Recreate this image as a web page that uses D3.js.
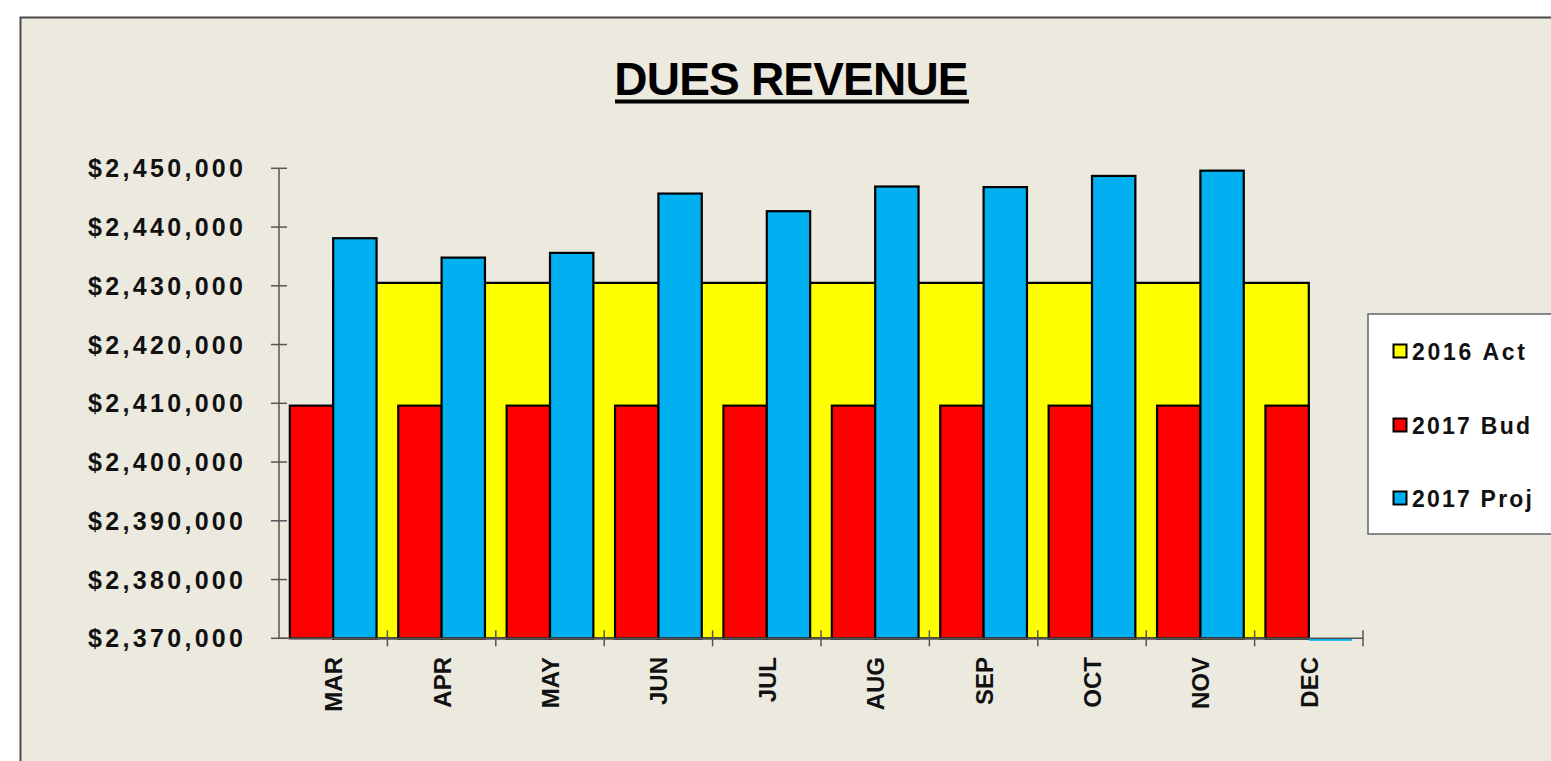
<!DOCTYPE html>
<html>
<head>
<meta charset="utf-8">
<script src="https://cdn.jsdelivr.net/npm/d3@7"></script>
<style>
  html, body { margin: 0; padding: 0; background: #fff; }
  svg { display: block; font-family: "Liberation Sans", Arial, sans-serif; }
</style>
</head>
<body>
<svg id="chart" width="1551" height="761"></svg>
<script>
// data
const months = ['MAR','APR','MAY','JUN','JUL','AUG','SEP','OCT','NOV','DEC'];
const act2016 = [2430500,2430500,2430500,2430500,2430500,2430500,2430500,2430500,2430500,2430500];
const bud2017 = [2409600,2409600,2409600,2409600,2409600,2409600,2409600,2409600,2409600,2409600];
const proj2017 = [2438100,2434800,2435600,2445700,2442700,2446900,2446800,2448700,2449600,0];
const yTicks = [2370000,2380000,2390000,2400000,2410000,2420000,2430000,2440000,2450000];
const seriesNames = ['2016 Act','2017 Bud','2017 Proj'];
const seriesColors = ['#ffff00','#ff0000','#00b0f0'];

(function duesChart(){
  const svg = d3.select('#chart');
  const W = +svg.attr('width'), H = +svg.attr('height');

  // chart area background + frame (top/left edges only visible)
  svg.append('rect').attr('x', 20).attr('y', 17).attr('width', W - 20).attr('height', H - 17)
    .attr('fill', '#ece9df');
  svg.append('path').attr('d', `M20.5,${H} V17.5 H${W}`)
    .attr('fill', 'none').attr('stroke', '#4a4a4a').attr('stroke-width', 2);

  // title
  svg.append('text')
    .attr('x', 791).attr('y', 95)
    .attr('text-anchor', 'middle')
    .attr('font-size', 46).attr('font-weight', 'bold')
    .attr('letter-spacing', -0.8)
    .text('DUES REVENUE');
  svg.append('rect').attr('x', 615).attr('y', 99.5).attr('width', 354).attr('height', 4).attr('fill', '#000');

  const plot = { left: 279, right: 1363, top: 168.3, bottom: 638.3 };

  const x = d3.scaleBand().domain(months).range([plot.left, plot.right]).padding(0);
  const y = d3.scaleLinear().domain([2370000, 2450000]).range([plot.bottom, plot.top]).clamp(true);
  const inner = d3.scaleBand().domain([0, 1]).range([0, x.bandwidth()]).paddingInner(0).paddingOuter(0.25);

  const g = svg.append('g');

  // 2016 Act: area from category centers
  const area = d3.area()
    .x((d, i) => x(months[i]) + x.bandwidth() / 2)
    .y0(y(2370000))
    .y1(d => y(d));
  g.append('path')
    .datum(act2016)
    .attr('d', area)
    .attr('fill', seriesColors[0])
    .attr('stroke', '#000').attr('stroke-width', 2.2).attr('stroke-linejoin', 'miter');

  // bars (values under the axis minimum sit as a thin strip on the baseline)
  const barSeries = [
    { vals: bud2017, color: seriesColors[1], k: 0 },
    { vals: proj2017, color: seriesColors[2], k: 1 }
  ];
  barSeries.forEach(s => {
    g.append('g').selectAll('rect')
      .data(s.vals)
      .join('rect')
        .attr('x', (d, i) => x(months[i]) + inner(s.k))
        .attr('width', inner.bandwidth())
        .attr('y', d => d < 2370000 ? y(2370000) + 0.5 : y(d))
        .attr('height', d => d < 2370000 ? 2 : y(2370000) - y(d))
        .attr('fill', s.color)
        .attr('stroke', d => d < 2370000 ? 'none' : '#000')
        .attr('stroke-width', 2.2);
  });

  // y axis
  const axisCol = '#555';
  g.append('line').attr('x1', plot.left).attr('x2', plot.left)
    .attr('y1', plot.top).attr('y2', plot.bottom).attr('stroke', axisCol).attr('stroke-width', 1.5);
  g.selectAll('.ytick').data(yTicks).join('line')
    .attr('x1', plot.left - 8).attr('x2', plot.left + 8)
    .attr('y1', d => y(d)).attr('y2', d => y(d))
    .attr('stroke', axisCol).attr('stroke-width', 1.5);
  g.selectAll('.ylab').data(yTicks).join('text')
    .attr('x', 88).attr('y', d => y(d) + 9)
    .attr('font-size', 25).attr('font-weight', 'bold')
    .attr('textLength', 155).attr('lengthAdjust', 'spacing')
    .attr('fill', '#111')
    .text(d => '$' + d3.format(',')(d));

  // x axis
  g.append('line').attr('x1', plot.left).attr('x2', plot.right)
    .attr('y1', plot.bottom).attr('y2', plot.bottom).attr('stroke', axisCol).attr('stroke-width', 1.5);
  const bounds = months.map(m => x(m)).concat([plot.right]);
  g.selectAll('.xtick').data(bounds.slice(1)).join('line')
    .attr('x1', d => d).attr('x2', d => d)
    .attr('y1', plot.bottom - 8).attr('y2', plot.bottom + 8)
    .attr('stroke', axisCol).attr('stroke-width', 1.5);
  g.selectAll('.xlab').data(months).join('text')
    .attr('transform', d => `translate(${x(d) + x.bandwidth() / 2 + 9},657) rotate(-90)`)
    .attr('text-anchor', 'end')
    .attr('font-size', 24).attr('font-weight', 'bold')
    .attr('fill', '#111')
    .text(d => d);

  // legend
  const lg = svg.append('g');
  lg.append('rect').attr('x', 1368).attr('y', 314).attr('width', 200).attr('height', 220)
    .attr('fill', '#fff').attr('stroke', '#666').attr('stroke-width', 1.5);
  const ly = [351, 425, 498];
  const lw = [113, 118, 120];
  seriesNames.forEach((name, i) => {
    lg.append('rect').attr('x', 1393.5).attr('y', ly[i] - 6.5).attr('width', 13).attr('height', 13)
      .attr('fill', seriesColors[i]).attr('stroke', '#000').attr('stroke-width', 2);
    lg.append('text').attr('x', 1412).attr('y', ly[i] + 8.5)
      .attr('font-size', 23).attr('font-weight', 'bold')
      .attr('textLength', lw[i]).attr('lengthAdjust', 'spacing')
      .attr('fill', '#111')
      .text(name);
  });
})();
</script>
</body>
</html>
